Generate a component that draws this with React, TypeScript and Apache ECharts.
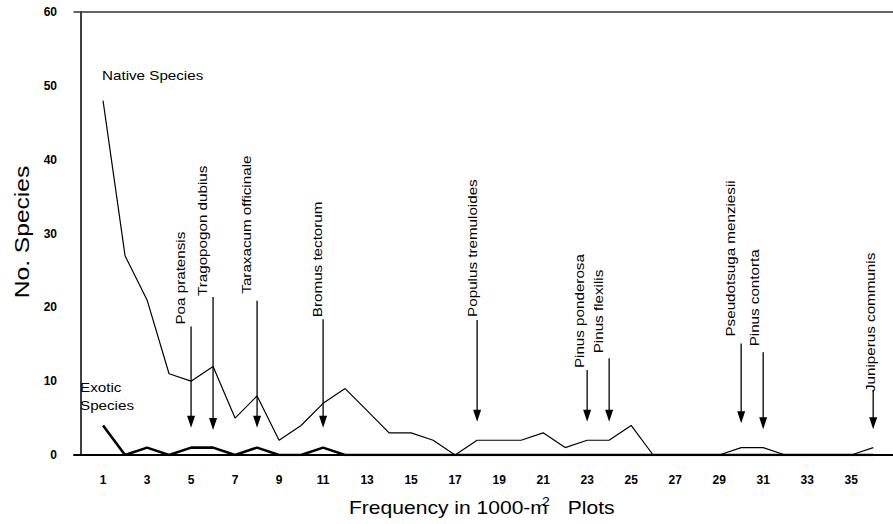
import React, { useEffect, useRef } from "react";
import * as echarts from "echarts";

// ---- data ----
const FREQUENCY = Array.from({ length: 36 }, (_, i) => i + 1);
const NATIVE = [48, 27, 21, 11, 10, 12, 5, 8, 2, 4, 7, 9, 6, 3, 3, 2, 0, 2, 2, 2, 3, 1, 2, 2, 4, 0, 0, 0, 0, 1, 1, 0, 0, 0, 0, 1];
const EXOTIC = [4, 0, 1, 0, 1, 1, 0, 1, 0, 0, 1, 0, 0, 0, 0, 0, 0, 0, 0, 0, 0, 0, 0, 0, 0, 0, 0, 0, 0, 0, 0, 0, 0, 0, 0, 0];
const X_TICKS = [1, 3, 5, 7, 9, 11, 13, 15, 17, 19, 21, 23, 25, 27, 29, 31, 33, 35];
const Y_TICKS = [0, 10, 20, 30, 40, 50, 60];
const ARROW_NAMES = [
  "Poa pratensis",
  "Tragopogon dubius",
  "Taraxacum officinale",
  "Bromus tectorum",
  "Populus tremuloides",
  "Pinus ponderosa",
  "Pinus flexilis",
  "Pseudotsuga menziesii",
  "Pinus contorta",
  "Juniperus communis",
];
const ARROW_X = [5, 6, 8, 11, 18, 23, 24, 30, 31, 36];
const ARROW_TOP = [17.4, 21.4, 20.9, 18.4, 18.3, 11.5, 13.1, 15.1, 13.9, 8.8];
const ARROW_TIP = [3.7, 3.4, 3.7, 3.7, 4.5, 4.5, 4.5, 4.3, 3.5, 3.5];

// ---- layout (pixels) for annotation labels ----
const LABEL_DX = [-11, -11, -11, -6, -5, -8, -11, -11, -9, -3];
const LABEL_DY = [-2, -1, -7, -2, -3, -2, -5, -7, -6, 2];

const FONT = "'Liberation Sans', Arial, Helvetica, sans-serif";
const SX = 1.17;

export default function App() {
  const ref = useRef<HTMLDivElement>(null);
  useEffect(() => {
    if (!ref.current) return;
    const chart = echarts.init(ref.current, null, { renderer: "svg" });
    const nativeData = FREQUENCY.map((f, i) => [f, NATIVE[i]]);
    const exoticData = FREQUENCY.map((f, i) => [f, EXOTIC[i]]);
    const arrowData = ARROW_X.map((x, i) => [x, ARROW_TOP[i], ARROW_TIP[i], i]);

    const txt = (extra: any) => ({
      fontFamily: FONT,
      fill: "#000",
      align: "left",
      verticalAlign: "bottom",
      textAlign: "left",
      textVerticalAlign: "bottom",
      ...extra,
    });

    chart.setOption({
      animation: false,
      backgroundColor: "#fff",
      grid: { left: 74, right: 0, top: 12, bottom: 69 },
      xAxis: [
        {
          type: "value",
          min: -0.32,
          max: 36.9,
          axisLine: { show: true, onZero: false, lineStyle: { color: "#000", width: 2 } },
          axisTick: { show: false },
          splitLine: { show: false },
          axisLabel: {
            customValues: X_TICKS,
            margin: 19,
            fontSize: 12,
            fontWeight: "bold",
            fontFamily: FONT,
            color: "#000",
          },
        },
        {
          type: "value",
          position: "top",
          min: -0.32,
          max: 36.9,
          axisLine: { show: true, onZero: false, lineStyle: { color: "#333", width: 1.5 } },
          axisTick: { show: false },
          splitLine: { show: false },
          axisLabel: { show: false },
        },
      ],
      yAxis: {
        type: "value",
        min: 0,
        max: 60,
        interval: 10,
        axisLine: { show: true, lineStyle: { color: "#000", width: 1.5 } },
        axisTick: { show: false },
        splitLine: { show: false },
        axisLabel: {
          customValues: Y_TICKS,
          margin: 17,
          fontSize: 12,
          fontWeight: "bold",
          fontFamily: FONT,
          color: "#000",
        },
      },
      series: [
        {
          name: "Native Species",
          type: "line",
          data: nativeData,
          symbol: "none",
          lineStyle: { color: "#000", width: 1.2 },
          z: 3,
        },
        {
          name: "Exotic Species",
          type: "line",
          data: exoticData,
          symbol: "none",
          lineStyle: { color: "#000", width: 2.6 },
          z: 4,
        },
        {
          type: "custom",
          data: arrowData,
          z: 5,
          renderItem: (params: any, api: any) => {
            const x = api.value(0);
            const top = api.value(1);
            const tip = api.value(2);
            const i = api.value(3);
            const p1 = api.coord([x, top]);
            const p2 = api.coord([x, tip]);
            const headLen = 12;
            const headW = 4;
            return {
              type: "group",
              children: [
                {
                  type: "line",
                  shape: { x1: p1[0], y1: p1[1], x2: p2[0], y2: p2[1] - headLen + 1 },
                  style: { stroke: "#000", lineWidth: 1.3 },
                },
                {
                  type: "polygon",
                  shape: {
                    points: [
                      [p2[0] - headW, p2[1] - headLen],
                      [p2[0] + headW, p2[1] - headLen],
                      [p2[0], p2[1]],
                    ],
                  },
                  style: { fill: "#000" },
                },
                {
                  type: "text",
                  x: p1[0] + LABEL_DX[i],
                  y: p1[1] + LABEL_DY[i],
                  rotation: Math.PI / 2,
                  scaleX: SX,
                  style: txt({
                    text: ARROW_NAMES[i],
                    fontSize: 13,
                    verticalAlign: "middle",
                    textVerticalAlign: "middle",
                  }),
                },
              ],
            };
          },
        },
      ],
      graphic: [
        {
          type: "text",
          x: 102,
          y: 82,
          scaleX: SX,
          style: txt({ text: "Native Species", fontSize: 13 }),
        },
        {
          type: "text",
          x: 80,
          y: 394,
          scaleX: SX,
          style: txt({ text: "Exotic", fontSize: 13 }),
        },
        {
          type: "text",
          x: 80,
          y: 412,
          scaleX: SX,
          style: txt({ text: "Species", fontSize: 13 }),
        },
        {
          type: "text",
          x: 22,
          y: 232,
          rotation: Math.PI / 2,
          scaleX: SX,
          style: txt({
            text: "No. Species",
            fontSize: 21,
            align: "center",
            verticalAlign: "middle",
            textAlign: "center",
            textVerticalAlign: "middle",
          }),
        },
        {
          type: "group",
          x: 349,
          y: 517,
          scaleX: SX,
          children: [
            {
              type: "text",
              x: 0,
              y: 0,
              style: txt({ text: "Frequency in 1000-m", fontSize: 18 }),
            },
            {
              type: "text",
              x: 165,
              y: -9,
              style: txt({ text: "2", fontSize: 12 }),
            },
            {
              type: "text",
              x: 187,
              y: 0,
              style: txt({ text: "Plots", fontSize: 18 }),
            },
          ],
        },
      ],
    });
    return () => chart.dispose();
  }, []);
  return (
    <div
      ref={ref}
      style={{ position: "absolute", left: 0, top: 0, width: 893, height: 524, background: "#fff" }}
    />
  );
}
